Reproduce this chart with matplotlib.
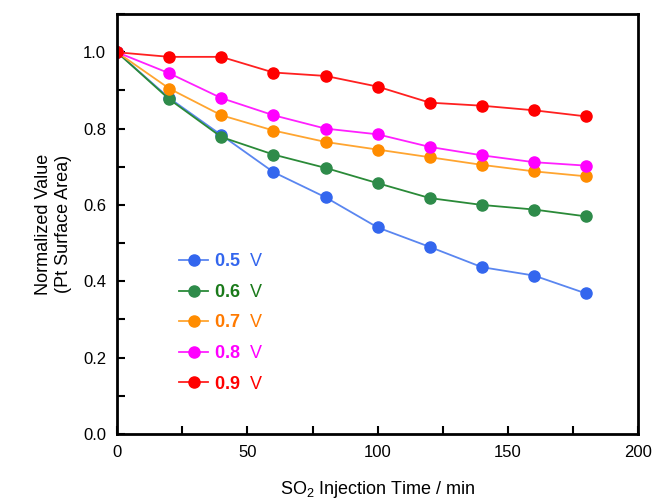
import matplotlib
matplotlib.use('Agg')
import matplotlib.pyplot as plt
from matplotlib.ticker import MultipleLocator

plt.rcParams['font.family'] = ['Liberation Sans', 'DejaVu Sans']
plt.rcParams['mathtext.fontset'] = 'custom'
plt.rcParams['mathtext.rm'] = 'Liberation Sans'
plt.rcParams['mathtext.bf'] = 'Liberation Sans:bold'

time = [0, 20, 40, 60, 80, 100, 120, 140, 160, 180]
v05 = [1.0, 0.880, 0.783, 0.686, 0.620, 0.541, 0.490, 0.437, 0.415, 0.368]
v06 = [1.0, 0.877, 0.778, 0.732, 0.697, 0.657, 0.618, 0.600, 0.588, 0.570]
v07 = [1.0, 0.905, 0.835, 0.795, 0.765, 0.745, 0.725, 0.705, 0.688, 0.675]
v08 = [1.0, 0.945, 0.880, 0.835, 0.800, 0.785, 0.752, 0.730, 0.712, 0.703]
v09 = [1.0, 0.988, 0.988, 0.947, 0.938, 0.910, 0.868, 0.860, 0.848, 0.832]

labels = ['0.5', '0.6', '0.7', '0.8', '0.9']
series = [v05, v06, v07, v08, v09]
line_colors = ['#5a86f0', '#2a8a38', '#ffa530', '#ff20ff', '#ff2020']
face_colors = ['#3366ee', '#2e8b4a', '#ff8c00', '#ff00ff', '#ff0000']
text_colors = ['#3366ee', '#1a7a1a', '#ff7a00', '#ff00ff', '#ff0000']

fig = plt.figure(figsize=(6.58, 5.04), dpi=100)
ax = fig.add_axes([0.178, 0.139, 0.792, 0.833])

for y, lab, lc, fc in zip(series, labels, line_colors, face_colors):
    ax.plot(time, y, '-o', color=lc, lw=1.3, ms=8, mfc=fc, mec=fc,
            label=r'$\mathbf{' + lab + r'}$  V')

ax.set_xlim(0, 200)
ax.set_ylim(0, 1.1)
ax.xaxis.set_major_locator(MultipleLocator(50))
ax.xaxis.set_minor_locator(MultipleLocator(25))
ax.yaxis.set_major_locator(MultipleLocator(0.2))
ax.yaxis.set_minor_locator(MultipleLocator(0.1))
ax.set_yticks([0, 0.2, 0.4, 0.6, 0.8, 1.0])
ax.set_yticklabels(['0.0', '0.2', '0.4', '0.6', '0.8', '1.0'])
ax.tick_params(which='both', direction='in', width=1.5, labelsize=12, pad=8)
ax.tick_params(which='major', length=6)
ax.tick_params(which='minor', length=6)
for s in ax.spines.values():
    s.set_linewidth(2)

ax.set_xlabel('SO$_2$ Injection Time / min', fontsize=13, labelpad=14)
ax.set_ylabel('Normalized Value\n(Pt Surface Area)', fontsize=13, labelpad=8)

leg = ax.legend(loc='lower left', bbox_to_anchor=(0.088, 0.06), frameon=False,
                fontsize=13, handlelength=1.6, handletextpad=0.3,
                labelspacing=0.75)
for t, c in zip(leg.get_texts(), text_colors):
    t.set_color(c)

fig.savefig('out.png', dpi=100)
